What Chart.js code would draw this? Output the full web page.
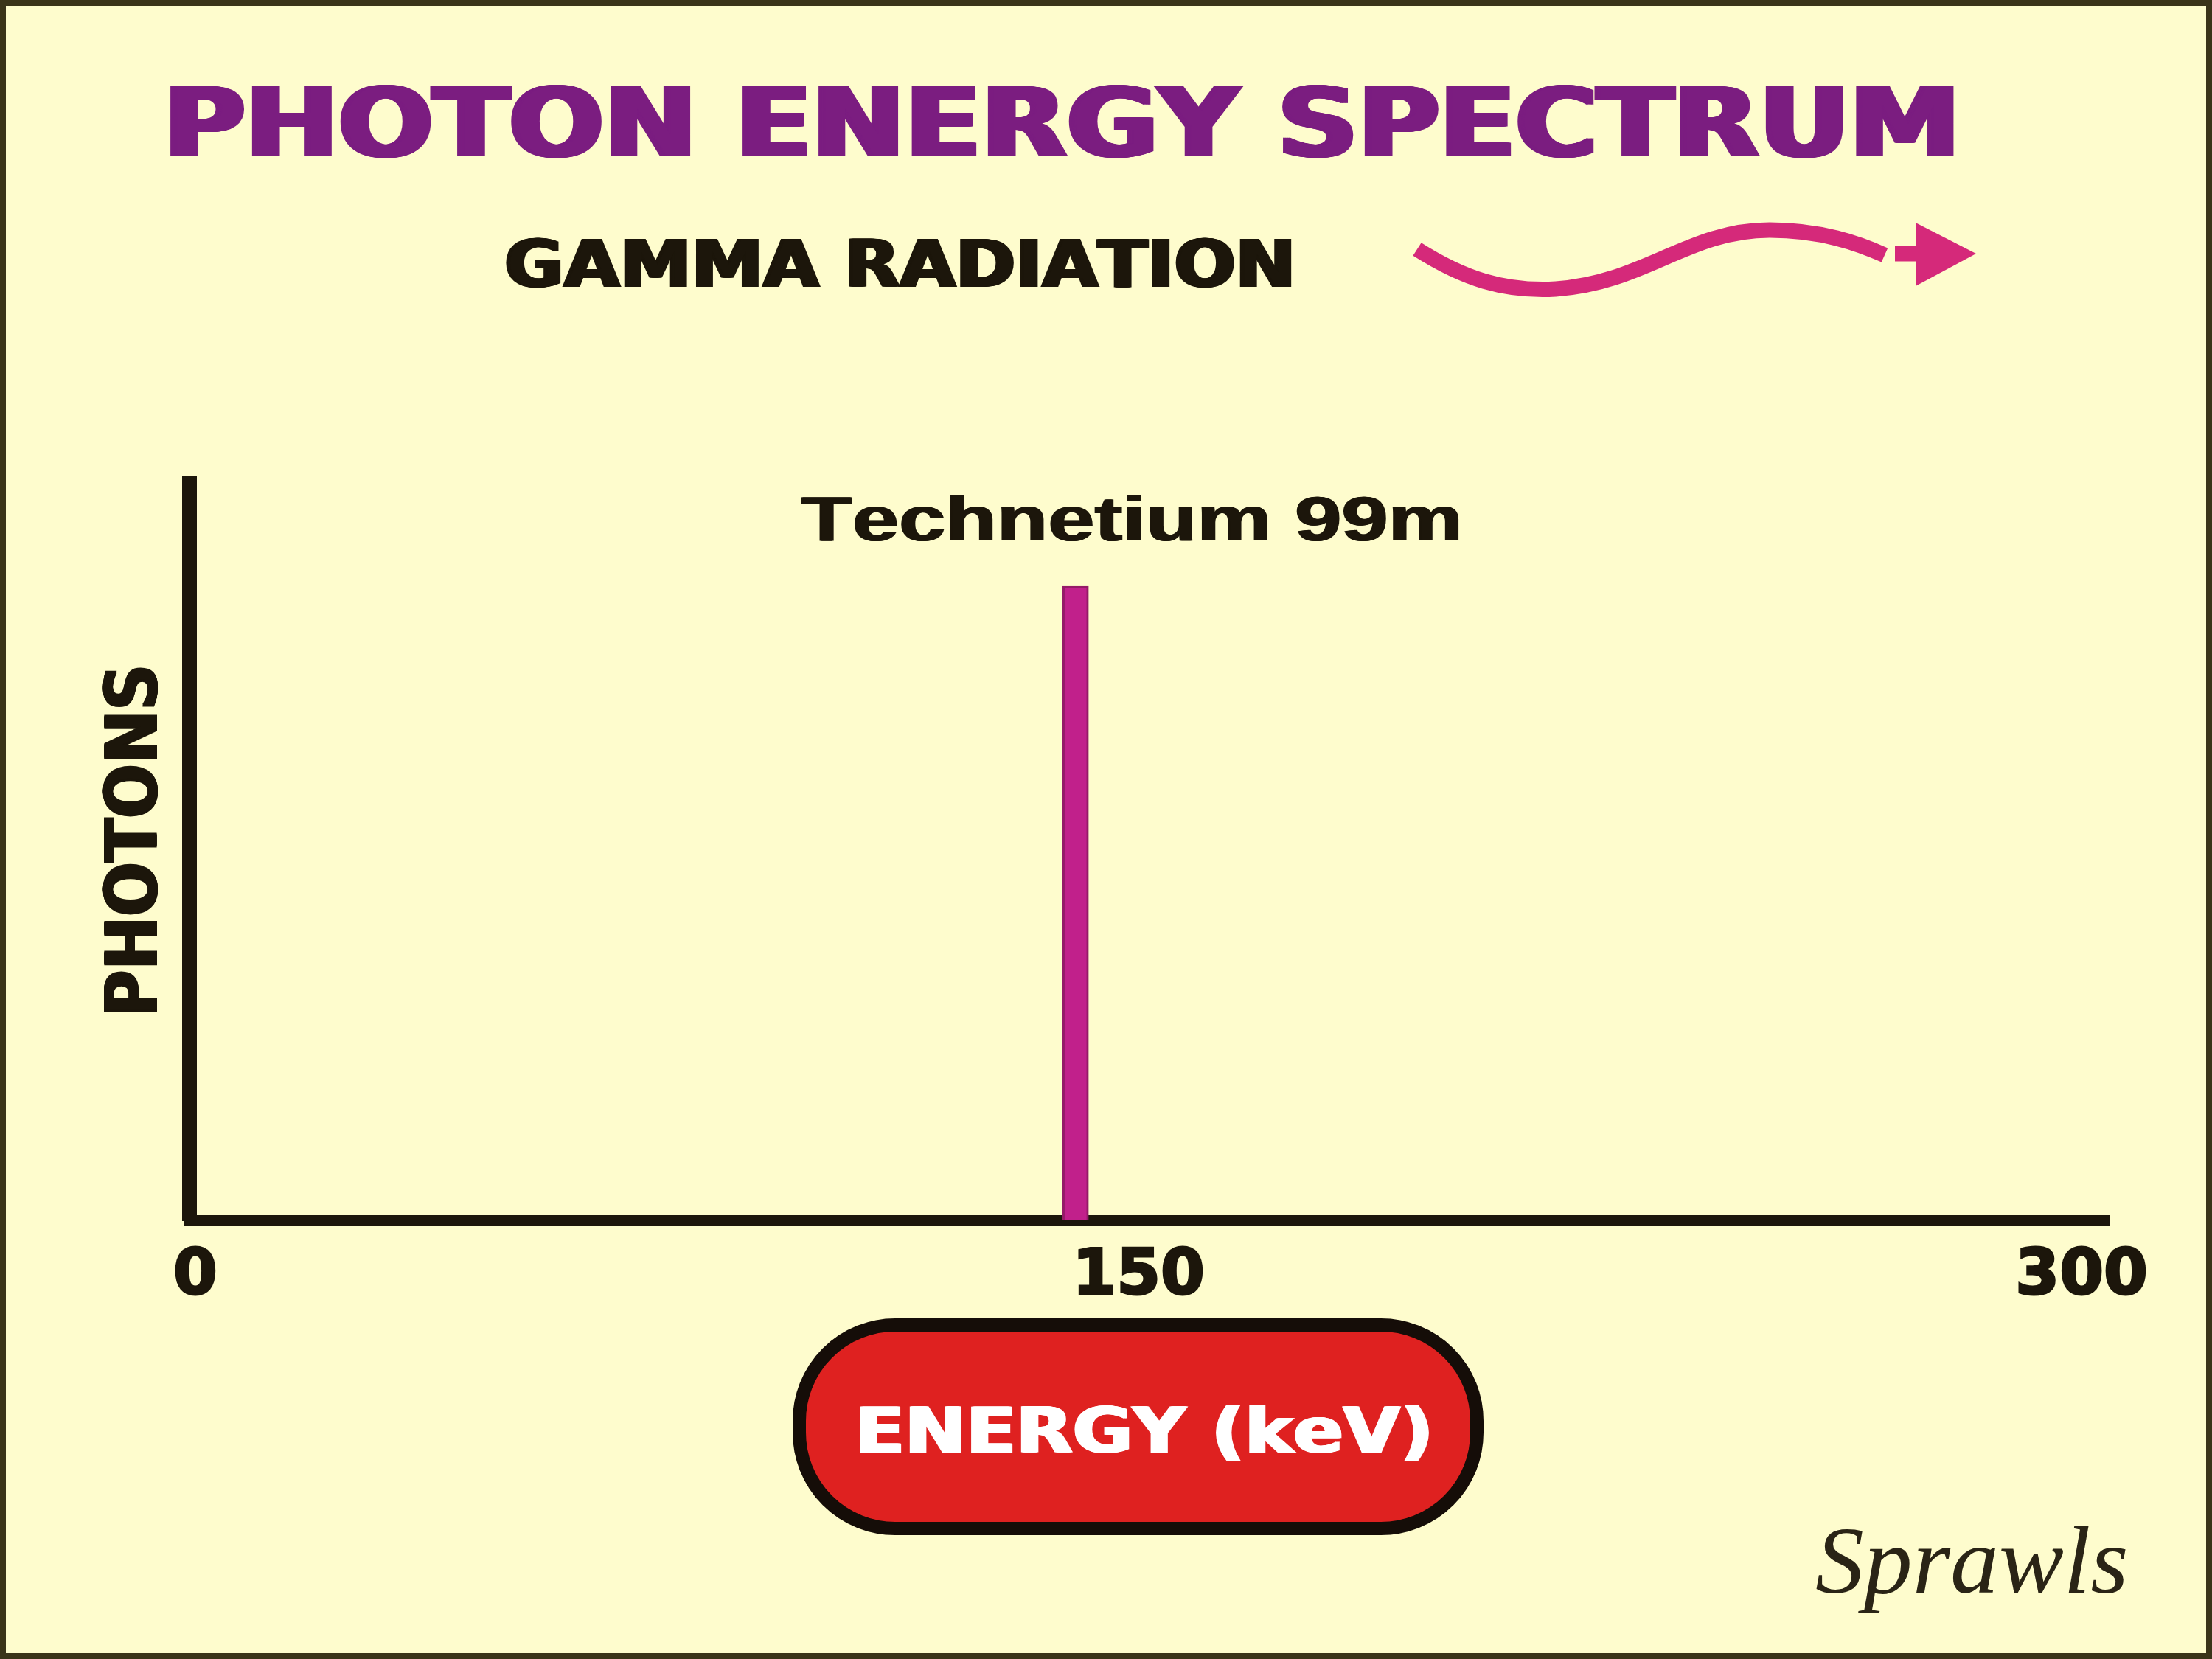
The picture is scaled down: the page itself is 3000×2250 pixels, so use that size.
<!DOCTYPE html>
<html>
<head>
<meta charset="utf-8">
<script src="https://cdn.jsdelivr.net/npm/chart.js@4.4.1/dist/chart.umd.min.js"></script>
<style>
  html, body { margin: 0; padding: 0; background: #fefccd; }
  #wrap { width: 3000px; height: 2250px; }
</style>
</head>
<body>
<div id="wrap"><canvas id="spectrum" width="3000" height="2250"></canvas></div>
<script>
// data
const energyTicks = [0, 150, 300];   // keV
const peakEnergy = [140];            // Tc-99m line
const peakPhotons = [86];            // relative height

const BG = '#fefccd';
const INK = '#1c160b';

// draw text so that its ink fills a given width; "heavy" smears it sideways a little
function fitText(ctx, text, x, baseline, width, font, color, heavy) {
  ctx.save();
  ctx.font = font;
  ctx.fontKerning = 'none';
  ctx.textAlign = 'left';
  ctx.textBaseline = 'alphabetic';
  const m = ctx.measureText(text);
  const ink = m.actualBoundingBoxLeft + m.actualBoundingBoxRight;
  const t = heavy || 0;
  ctx.translate(x, baseline);
  ctx.scale(width / (ink + t), 1);
  ctx.fillStyle = color;
  for (let k = 0; k <= t; k += 1) {
    ctx.fillText(text, m.actualBoundingBoxLeft + k, 0);
  }
  ctx.restore();
}

const decorations = {
  id: 'decorations',
  beforeDraw(chart) {
    const ctx = chart.ctx;
    ctx.save();
    ctx.fillStyle = BG;
    ctx.fillRect(0, 0, chart.width, chart.height);
    ctx.restore();
  },
  afterDraw(chart) {
    const ctx = chart.ctx;

    // titles
    fitText(ctx, 'PHOTON ENERGY SPECTRUM', 230, 212, 2420, 'bold 130px "DejaVu Sans"', '#7b1d80', 8);
    fitText(ctx, 'GAMMA RADIATION', 686, 389, 1066, 'bold 89px "DejaVu Sans"', INK, 5);
    fitText(ctx, 'Technetium 99m', 1085, 733, 894, 'bold 85px "Liberation Sans"', INK, 2);

    // wavy arrow
    ctx.save();
    ctx.strokeStyle = '#d5297a';
    ctx.fillStyle = '#d5297a';
    ctx.lineWidth = 21;
    ctx.beginPath();
    ctx.moveTo(1922, 338);
    ctx.bezierCurveTo(1985, 378, 2040, 396, 2110, 392);
    ctx.bezierCurveTo(2230, 384, 2290, 312, 2400, 312);
    ctx.bezierCurveTo(2470, 312, 2520, 330, 2556, 346);
    ctx.stroke();
    ctx.beginPath();
    ctx.moveTo(2570, 344);
    ctx.lineTo(2605, 344);
    ctx.stroke();
    ctx.beginPath();
    ctx.moveTo(2598, 302);
    ctx.lineTo(2680, 344);
    ctx.lineTo(2598, 388);
    ctx.closePath();
    ctx.fill();
    ctx.restore();

    // y axis title, rotated
    ctx.save();
    ctx.translate(213, 1373);
    ctx.rotate(-Math.PI / 2);
    fitText(ctx, 'PHOTONS', 0, 0, 468, 'bold 98px "DejaVu Sans"', INK, 4);
    ctx.restore();

    // x axis title in a red pill
    ctx.save();
    ctx.beginPath();
    ctx.roundRect(1084, 1797, 919, 276, 130);
    ctx.fillStyle = '#df2120';
    ctx.fill();
    ctx.lineWidth = 18;
    ctx.strokeStyle = '#150d08';
    ctx.stroke();
    ctx.restore();
    fitText(ctx, 'ENERGY (keV)', 1165, 1970, 773, 'bold 86px "DejaVu Sans"', '#ffffff', 4);

    // signature
    fitText(ctx, 'Sprawls', 2463, 2160, 420, 'italic 130px "Liberation Serif"', '#2a2416', 0);

    // frame
    ctx.save();
    ctx.strokeStyle = '#3a3419';
    ctx.lineWidth = 8;
    ctx.strokeRect(4, 4, chart.width - 8, chart.height - 8);
    ctx.restore();
  }
};

function build() {
  new Chart(document.getElementById('spectrum').getContext('2d'), {
    type: 'bar',
    data: {
      datasets: [{
        label: 'Photons',
        data: peakEnergy.map((e, i) => ({ x: e, y: peakPhotons[i] })),
        backgroundColor: '#c1208b',
        borderColor: '#951a68',
        borderWidth: 3,
        barThickness: 35
      }]
    },
    options: {
      responsive: false,
      animation: false,
      events: [],
      layout: { padding: { left: 257, right: 140, top: 655, bottom: 395 } },
      plugins: {
        legend: { display: false },
        title: { display: false },
        tooltip: { enabled: false }
      },
      scales: {
        x: {
          type: 'linear',
          min: -0.94,
          max: 304.33,
          offset: false,
          z: 1,
          afterBuildTicks: (scale) => { scale.ticks = energyTicks.map(v => ({ value: v })); },
          afterFit: (scale) => { scale.height = 200; },
          grid: { display: false, drawTicks: false, offset: false },
          border: { display: true, width: 15, color: INK },
          ticks: {
            padding: 26,
            maxRotation: 0,
            autoSkip: false,
            color: INK,
            textStrokeColor: INK,
            textStrokeWidth: 3,
            font: { family: 'DejaVu Sans', weight: 'bold', size: 86 }
          }
        },
        y: {
          min: 0,
          max: 100,
          z: 1,
          afterFit: (scale) => { scale.width = 0; },
          grid: { display: false, drawTicks: false },
          border: { display: true, width: 20, color: INK },
          ticks: { display: false }
        }
      }
    },
    plugins: [decorations]
  });
}

const fontsWanted = [
  'bold 100px "DejaVu Sans"',
  'bold 100px "Liberation Sans"',
  'italic 100px "Liberation Serif"'
];
if (document.fonts && document.fonts.load) {
  Promise.all(fontsWanted.map(f => document.fonts.load(f))).then(build, build);
} else {
  build();
}
</script>
</body>
</html>
